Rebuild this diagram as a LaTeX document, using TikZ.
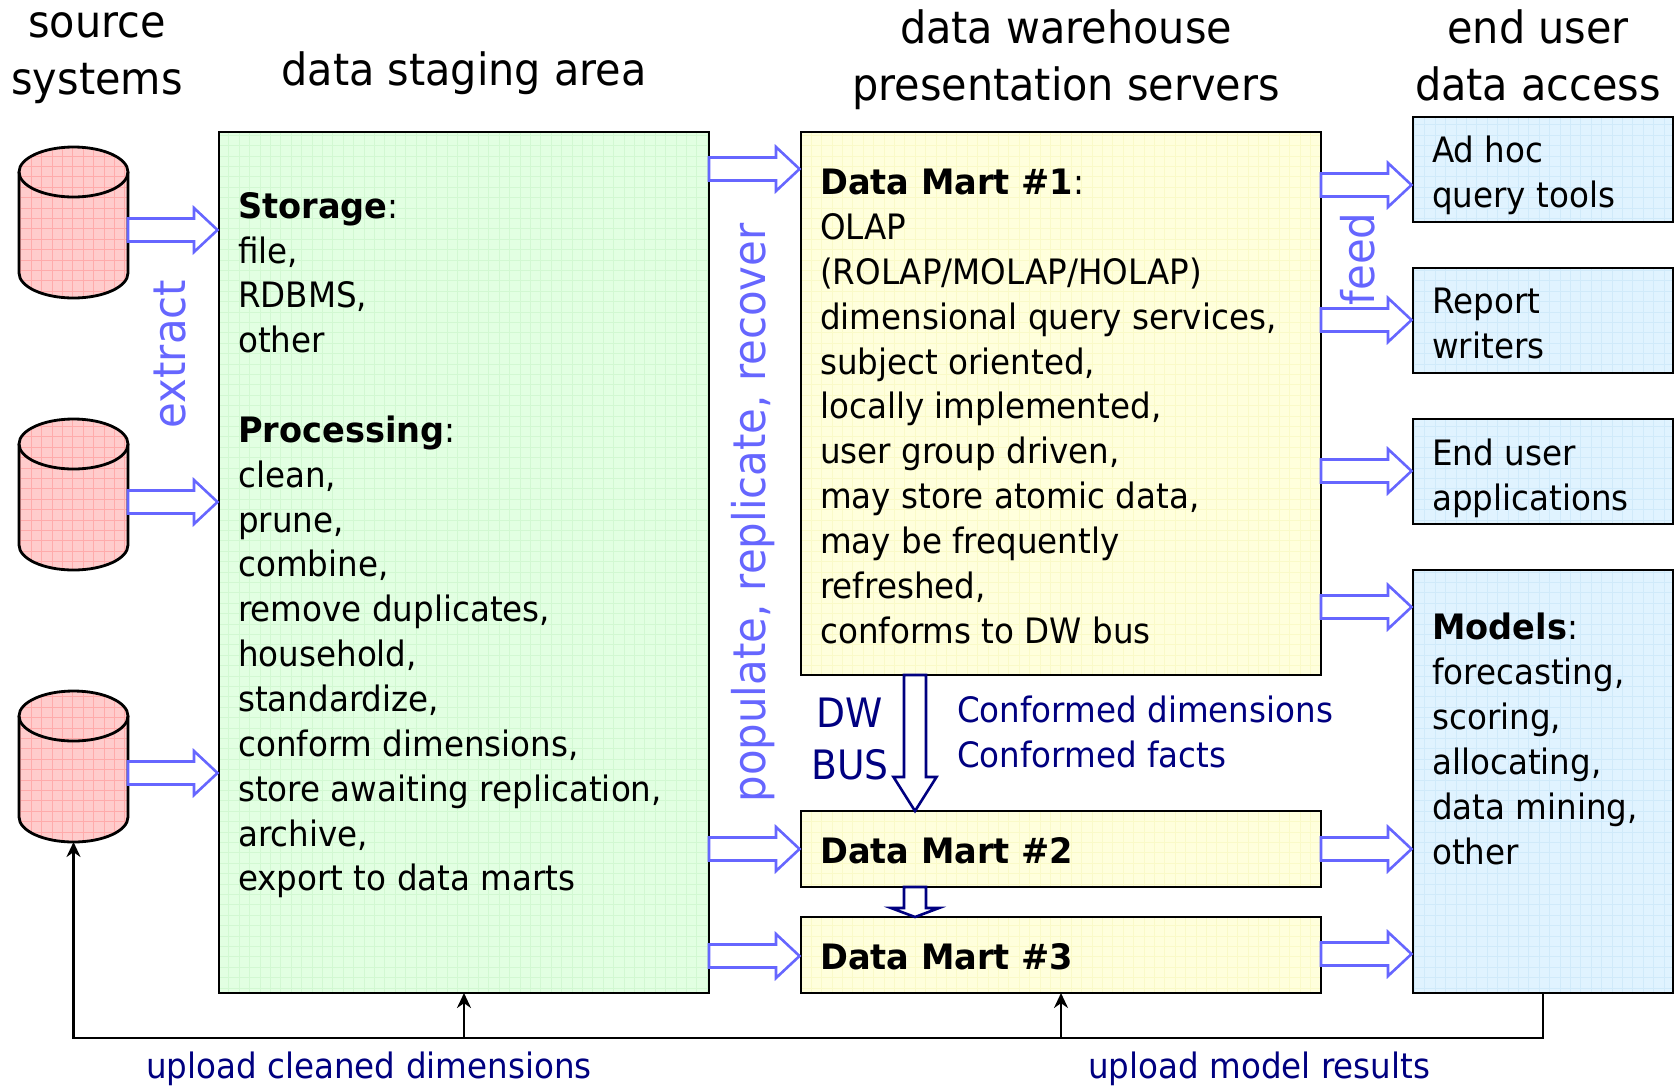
\documentclass[tikz,border=0pt]{standalone}
\usepackage{fontspec}
\setmainfont{DejaVu Sans}[FakeStretch=0.93,BoldFeatures={FakeStretch=0.96}]
\usetikzlibrary{calc,arrows.meta}
\definecolor{lblue}{HTML}{6666FF}
\definecolor{navy}{HTML}{000080}
\tikzset{
  box/.style={draw=black,line width=2.8pt,anchor=north west,inner sep=0pt,outer sep=0pt},
  bodytext/.style={anchor=north west,align=left,inner sep=0pt,font=\fontsize{35}{44.85}\selectfont},
  headtext/.style={anchor=north,align=center,inner sep=0pt,font=\fontsize{44.5}{57}\selectfont},
  bluelabel/.style={text=lblue,inner sep=0pt,rotate=90,font=\fontsize{45}{48}\selectfont},
  navytext/.style={text=navy,inner sep=0pt,anchor=north west,align=left,font=\fontsize{35}{45}\selectfont},
  hollowblue/.style={draw=lblue,fill=white,line width=2.6pt,line join=miter},
  hollownavy/.style={draw=navy,fill=white,line width=2.6pt,line join=miter},
  feedback/.style={draw=black,line width=2.4pt,-{Stealth[length=15pt,width=14pt]}},
}
% grid-filled rectangle node: name, x1,y1,x2,y2, fill, grid
\newcommand{\gridbox}[7]{%
  \node[box,fill=#6,minimum width=#4pt-#2pt,minimum height=#5pt-#3pt] (#1) at (#2,#3) {};
  \begin{scope}
    \clip (#2,#3) rectangle (#4,#5);
    \draw[#7,line width=0.7pt,step=10.4pt] (#2,#3) grid (#4,#5);
  \end{scope}
  \draw[black,line width=2.8pt] (#2,#3) rectangle (#4,#5);
}
\newcommand{\dbcyl}[2]{% name, top y
  \node[minimum width=109pt,minimum height=151pt,inner sep=0pt,outer sep=0pt,anchor=north west] (#1) at (19,#2) {};
  \begin{scope}
    \clip (19,#2+25) arc[start angle=180,end angle=360,x radius=54.5,y radius=-25] -- (128,#2+126) arc[start angle=360,end angle=180,x radius=54.5,y radius=-25] -- cycle;
    \fill[cylfill] (19,#2) rectangle (128,#2+151);
    \draw[cylgrid,line width=0.8pt,step=10.4pt] (19,#2) grid (128,#2+151);
  \end{scope}
  \begin{scope}
    \clip (73.5,#2+25) ellipse[x radius=54.5,y radius=25];
    \fill[cylfill] (19,#2) rectangle (128,#2+50);
    \draw[cylgrid,line width=0.8pt,step=10.4pt] (19,#2) grid (128,#2+50);
  \end{scope}
  \draw[black,line width=2.8pt] (19,#2+25) -- (19,#2+126) arc[start angle=180,end angle=0,x radius=54.5,y radius=25] -- (128,#2+25);
  \draw[black,line width=2.8pt] (73.5,#2+25) ellipse[x radius=54.5,y radius=25];
}
% horizontal hollow arrow from east of node #1 to west of node #2 at height #3
\newcommand{\harrow}[3]{%
  \draw[hollowblue] let \p1=(#1.east),\p2=(#2.west) in
    (\x1,#3-11.5) -- (\x2-25pt,#3-11.5) -- (\x2-25pt,#3-22) -- (\x2-1.5pt,#3) -- (\x2-25pt,#3+22) -- (\x2-25pt,#3+11.5) -- (\x1,#3+11.5) -- cycle;
}
% vertical hollow arrow from south of #1 to north of #2 at x=#3, head length #4, head half-width #5
\newcommand{\varrow}[5]{%
  \draw[hollownavy] let \p1=(#1.south),\p2=(#2.north) in
    (#3-11,\y1) -- (#3-11,\y2+#4pt) -- (#3-#5,\y2+#4pt) -- (#3,\y2) -- (#3+#5,\y2+#4pt) -- (#3+11,\y2+#4pt) -- (#3+11,\y1) -- cycle;
}
\definecolor{cylfill}{HTML}{FFCCCC}
\definecolor{cylgrid}{HTML}{FFABAB}
\definecolor{gfill}{HTML}{E2FFE2}
\definecolor{ggrid}{HTML}{D2F8D2}
\definecolor{yfill}{HTML}{FFFFDC}
\definecolor{ygrid}{HTML}{FAFAC8}
\definecolor{bfill}{HTML}{E0F3FF}
\definecolor{bgrid}{HTML}{D0EAFA}
\begin{document}
\begin{tikzpicture}[x=1pt,y=-1pt]
\useasboundingbox (0,0) rectangle (1675,1085);

\dbcyl{cylA}{147}
\dbcyl{cylB}{419}
\dbcyl{cylC}{691}
\gridbox{staging}{219}{132}{709}{993}{gfill}{ggrid}
\gridbox{dmone}{801}{132}{1321}{675}{yfill}{ygrid}
\gridbox{dmtwo}{801}{811}{1321}{887}{yfill}{ygrid}
\gridbox{dmthree}{801}{917}{1321}{993}{yfill}{ygrid}
\gridbox{adhoc}{1413}{117}{1673}{222}{bfill}{bgrid}
\gridbox{report}{1413}{268}{1673}{373}{bfill}{bgrid}
\gridbox{enduser}{1413}{419}{1673}{524}{bfill}{bgrid}
\gridbox{models}{1413}{570}{1673}{993}{bfill}{bgrid}

\harrow{cylA}{staging}{230}
\harrow{cylB}{staging}{502}
\harrow{cylC}{staging}{773}
\harrow{staging}{dmone}{169}
\harrow{staging}{dmtwo}{849}
\harrow{staging}{dmthree}{956}
\harrow{dmone}{adhoc}{185}
\harrow{dmone}{report}{320}
\harrow{dmone}{enduser}{471}
\harrow{dmone}{models}{607}
\harrow{dmtwo}{models}{849}
\harrow{dmthree}{models}{954}
\varrow{dmone}{dmtwo}{915}{34}{21.5}
\varrow{dmtwo}{dmthree}{915}{9}{24}

\coordinate (busY) at (0,1038);
\coordinate (modelsOut) at (1543,993);
\draw[feedback] (modelsOut) |- (busY -| cylC.south) -- (cylC.south);
\draw[feedback] (busY -| staging.south) -- (staging.south);
\draw[feedback] (busY -| dmthree.south) -- (dmthree.south);

\node[headtext] (hsource) at (97,12) {source\\systems};
\node[headtext] (hstaging) at (464,51) {data staging area};
\node[headtext] (hdw) at (1066,9) {data warehouse\\presentation servers};
\node[headtext] (huser) at (1538,9) {end user\\data access};

\node[bodytext] (tstaging) at (238,192) {\textbf{Storage}:\\file,\\RDBMS,\\other\\[44.85pt]\textbf{Processing}:\\clean,\\prune,\\combine,\\remove duplicates,\\household,\\standardize,\\conform dimensions,\\store awaiting replication,\\archive,\\export to data marts};
\node[bodytext] (tdmone) at (820,169) {\textbf{Data Mart \#1}:\\OLAP\\(ROLAP/MOLAP/HOLAP)\\dimensional query services,\\subject oriented,\\locally implemented,\\user group driven,\\may store atomic data,\\may be frequently\\refreshed,\\conforms to DW bus};
\node[bodytext] (tdmtwo) at (820,837) {\textbf{Data Mart \#2}};
\node[bodytext] (tdmthree) at (820,943) {\textbf{Data Mart \#3}};
\node[bodytext] (tadhoc) at (1432,136) {Ad hoc\\query tools};
\node[bodytext] (treport) at (1432,288) {Report\\writers};
\node[bodytext] (tenduser) at (1432,439) {End user\\applications};
\node[bodytext] (tmodels) at (1432,613) {\textbf{Models}:\\forecasting,\\scoring,\\allocating,\\data mining,\\other};

\node[bluelabel] (lextract) at (170,354) {extract};
\node[bluelabel] (lpop) at (753,513) {populate, replicate, recover};
\node[bluelabel] (lfeed) at (1358,259) {feed};
\node[navytext,align=center,anchor=north,font=\fontsize{40.5}{52}\selectfont] (ldw) at (850,698) {DW\\BUS};
\node[navytext] (lconf) at (957,696) {Conformed dimensions\\Conformed facts};
\node[navytext] (lupa) at (146,1052) {upload cleaned dimensions};
\node[navytext] (lupb) at (1088,1052) {upload model results};
\end{tikzpicture}
\end{document}
